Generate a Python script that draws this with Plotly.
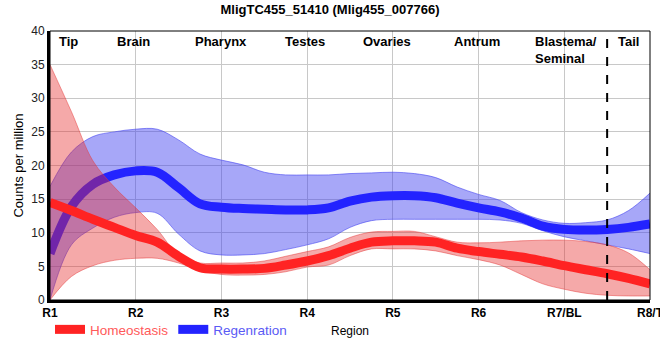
import plotly.graph_objects as go

# positions along the body (quarter steps between regions)
pos = [i * 0.25 for i in range(29)]
tick_pos = [0, 1, 2, 3, 4, 5, 6, 7]
tick_labels = ["R1", "R2", "R3", "R4", "R5", "R6", "R7/BL", "R8/T"]

homeo_mean = [14.5, 13.3, 12.0, 10.8, 9.6, 8.6, 6.5, 4.8, 4.6, 4.6, 4.7, 5.2, 5.8, 6.6, 7.7, 8.6,
              8.8, 8.8, 8.6, 7.7, 7.2, 6.8, 6.4, 5.8, 5.1, 4.5, 3.9, 3.2, 2.4]
homeo_hi = [35.0, 28.0, 20.7, 16.8, 13.7, 10.5, 6.7, 5.5, 5.5, 5.5, 5.8, 6.5, 7.2, 7.9, 9.3, 10.1,
            10.2, 10.2, 9.4, 8.6, 8.5, 8.6, 8.8, 8.9, 8.9, 8.7, 8.2, 7.0, 4.5]
homeo_lo = [0.0, 3.5, 5.1, 5.9, 6.2, 6.2, 5.5, 4.4, 3.8, 3.7, 3.8, 4.2, 4.9, 5.2, 6.6, 7.6,
            7.6, 7.6, 7.3, 6.6, 6.0, 5.2, 3.8, 2.4, 1.6, 1.0, 0.7, 0.6, 0.6]

regen_mean = [6.9, 13.9, 17.2, 18.6, 19.2, 19.0, 16.7, 14.3, 13.8, 13.6, 13.5, 13.4, 13.4, 13.7, 14.7, 15.3,
              15.5, 15.5, 15.2, 14.4, 13.7, 13.1, 12.2, 11.0, 10.5, 10.4, 10.5, 10.8, 11.3]
regen_hi = [16.9, 22.0, 24.3, 25.0, 25.4, 25.4, 23.8, 21.7, 20.8, 20.1, 19.0, 18.6, 18.6, 18.6, 18.8, 18.9,
            19.0, 18.8, 18.2, 16.8, 15.7, 14.8, 13.0, 11.9, 11.4, 11.5, 11.9, 13.3, 15.9]
regen_lo = [0.0, 8.2, 10.7, 12.3, 13.0, 12.9, 9.8, 7.3, 6.7, 6.7, 6.9, 7.5, 8.2, 9.1, 10.8, 11.8,
            12.0, 12.0, 12.0, 12.0, 12.0, 11.9, 11.4, 10.3, 9.4, 8.8, 8.2, 7.6, 6.9]

region_names = ["Tip", "Brain", "Pharynx", "Testes", "Ovaries", "Antrum", "Blastema/<br>Seminal", "Tail"]
region_pos = [0.21, 0.97, 2.0, 2.97, 3.93, 4.98, 5.63, 6.75]
region_align = ["center"] * 6 + ["left", "center"]

RED = "rgb(255,35,35)"
BLUE = "rgb(35,35,255)"

fig = go.Figure()

# Regeneration band + line (drawn first, under homeostasis)
fig.add_trace(go.Scatter(x=pos, y=regen_lo, mode="lines", line=dict(color="rgba(70,70,240,0.6)", width=1, shape="spline"),
                         showlegend=False, hoverinfo="skip"))
fig.add_trace(go.Scatter(x=pos, y=regen_hi, mode="lines", line=dict(color="rgba(70,70,240,0.6)", width=1, shape="spline"),
                         fill="tonexty", fillcolor="rgba(60,60,240,0.45)", showlegend=False, hoverinfo="skip"))
fig.add_trace(go.Scatter(x=pos, y=regen_mean, mode="lines", line=dict(color=BLUE, width=9, shape="spline"),
                         name="<span style='color:#5a5af5'>Regenration</span>", legendrank=2))

# Homeostasis band + line
fig.add_trace(go.Scatter(x=pos, y=homeo_lo, mode="lines", line=dict(color="rgba(230,60,60,0.5)", width=1, shape="spline"),
                         showlegend=False, hoverinfo="skip"))
fig.add_trace(go.Scatter(x=pos, y=homeo_hi, mode="lines", line=dict(color="rgba(230,60,60,0.5)", width=1, shape="spline"),
                         fill="tonexty", fillcolor="rgba(230,40,40,0.4)", showlegend=False, hoverinfo="skip"))
fig.add_trace(go.Scatter(x=pos, y=homeo_mean, mode="lines", line=dict(color=RED, width=9, shape="spline"),
                         name="<span style='color:#ff5a5a'>Homeostasis</span>", legendrank=1))

# tail boundary
fig.add_shape(type="line", x0=6.5, x1=6.5, y0=0, y1=40, xref="x", yref="y",
              line=dict(color="black", width=2, dash="dash"))
# thin top/right frame
fig.add_shape(type="rect", x0=0, x1=1, y0=0, y1=1, xref="paper", yref="paper",
              line=dict(color="black", width=1), layer="above")

for name, xp, al in zip(region_names, region_pos, region_align):
    fig.add_annotation(x=xp, y=40, xref="x", yref="y", text="<b>" + name + "</b>", showarrow=False,
                       xanchor="left" if al == "left" else "center", yanchor="top", align="left", yshift=-1,
                       font=dict(size=13, color="black"))

fig.update_layout(
    width=660, height=360,
    margin=dict(l=50, r=10, t=31, b=60, autoexpand=False),
    paper_bgcolor="white", plot_bgcolor="white",
    font=dict(family="Arial, Liberation Sans, sans-serif", size=12, color="#222"),
    title=dict(text="<b>MligTC455_51410 (Mlig455_007766)</b>", x=0.5, xanchor="center",
               yref="container", y=0.974, yanchor="middle", automargin=False,
               font=dict(size=13, color="black")),
    showlegend=True,
    legend=dict(orientation="h", x=0.0, xanchor="left", y=-0.11, yanchor="middle", traceorder="normal",
                font=dict(size=13.5), bgcolor="rgba(0,0,0,0)", itemwidth=30, tracegroupgap=0),
    xaxis=dict(range=[0, 7], tickvals=tick_pos, ticktext=["<b>" + t + "</b>" for t in tick_labels],
               automargin=False, ticklabeloverflow="allow",
               showgrid=True, gridcolor="#c8c8c8", gridwidth=1, zeroline=False,
               showline=True, linecolor="black", linewidth=3, ticks="", tickfont=dict(size=12, color="black"),
               title=dict(text="Region", standoff=8, font=dict(size=12, color="black"))),
    yaxis=dict(range=[0, 40], dtick=5, automargin=False,
               showgrid=True, gridcolor="#c8c8c8", gridwidth=1, zeroline=False,
               showline=True, linecolor="black", linewidth=3, ticks="", tickfont=dict(size=12, color="#222"),
               title=dict(text="Counts per million", standoff=5, font=dict(size=13, color="black"))),
)

fig.write_html("out.html", config={"displayModeBar": False},
               post_script="document.body.style.margin='0px';")
